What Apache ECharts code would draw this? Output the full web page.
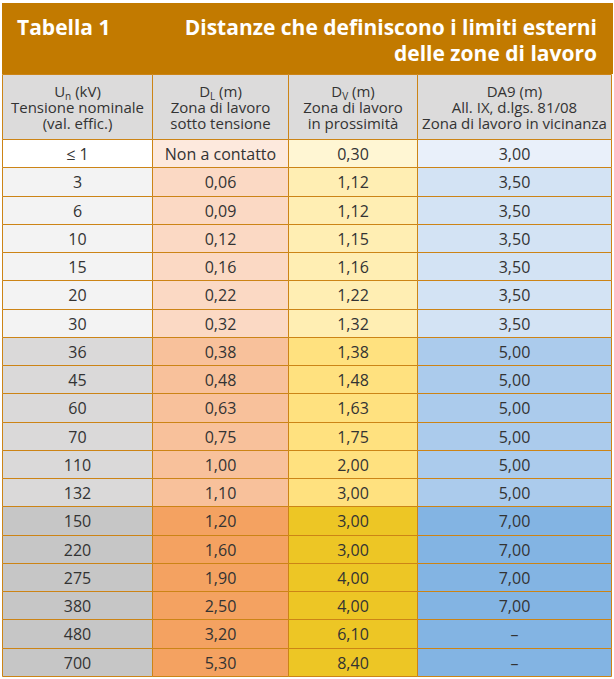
<!DOCTYPE html>
<html>
<head>
<meta charset="utf-8">
<script src="https://cdn.jsdelivr.net/npm/echarts@6/dist/echarts.min.js"></script>
<style>
  html, body { margin: 0; padding: 0; background: #fff; }
  #main { width: 614px; height: 679px; }
</style>
</head>
<body>
<div id="main"></div>
<script>
// dati della tabella
var tensioni = ['≤ 1', '3', '6', '10', '15', '20', '30', '36', '45', '60', '70', '110', '132', '150', '220', '275', '380', '480', '700'];
var distL = [null, 0.06, 0.09, 0.12, 0.16, 0.22, 0.32, 0.38, 0.48, 0.63, 0.75, 1.00, 1.10, 1.20, 1.60, 1.90, 2.50, 3.20, 5.30];
var distV = [0.30, 1.12, 1.12, 1.15, 1.16, 1.22, 1.32, 1.38, 1.48, 1.63, 1.75, 2.00, 3.00, 3.00, 3.00, 4.00, 4.00, 6.10, 8.40];
var distA9 = [3.00, 3.50, 3.50, 3.50, 3.50, 3.50, 3.50, 5.00, 5.00, 5.00, 5.00, 5.00, 5.00, 7.00, 7.00, 7.00, 7.00, null, null];
// fascia di tensione di ogni riga (colore delle celle)
var fasce = [0, 1, 1, 1, 1, 1, 1, 2, 2, 2, 2, 2, 2, 3, 3, 3, 3, 3, 3];
var intestazioni = [
  ['{m|U}{s|n}{m| (kV)}', 'Tensione nominale', '(val. effic.)'],
  ['{m|D}{s|L}{m| (m)}', 'Zona di lavoro', 'sotto tensione'],
  ['{m|D}{s|V}{m| (m)}', 'Zona di lavoro', 'in prossimità'],
  ['DA9 (m)', 'All. IX, d.lgs. 81/08', 'Zona di lavoro in vicinanza']
];
var titolo = 'Tabella 1';
var sottotitolo = ['Distanze che definiscono i limiti esterni', 'delle zone di lavoro'];

// larghezze colonne e colori
var larghezze = [150, 136, 129, 194];
var bordi = [0];
larghezze.forEach(function (w, i) { bordi.push(bordi[i] + w); });
var totale = bordi[bordi.length - 1];

var arancio = '#C27A00';
var linea = '#CC8416';
var grigioHead = '#DCDBDB';
var colori = [
  ['#FFFFFF', '#F3F3F3', '#DAD9D9', '#C6C6C6'],
  ['#FDE9DD', '#FBD9C4', '#F8C19B', '#F4A261'],
  ['#FFF6D3', '#FFEEB3', '#FFE17F', '#EDC625'],
  ['#E9F0FA', '#D3E3F4', '#ABCBEC', '#83B4E3']
];
var font = '"Open Sans", "Noto Sans", sans-serif';
var testoCol = '#333333';

function fmt(v) {
  return v.toFixed(2).replace('.', ',');
}

var celle = [];
tensioni.forEach(function (t, r) {
  celle.push([0, r, t, fasce[r]]);
  celle.push([1, r, distL[r] == null ? 'Non a contatto' : fmt(distL[r]), fasce[r]]);
  celle.push([2, r, fmt(distV[r]), fasce[r]]);
  celle.push([3, r, distA9[r] == null ? '–' : fmt(distA9[r]), fasce[r]]);
});
var celleHead = intestazioni.map(function (t, c) { return [c, 0]; });

// rettangolo della cella dalle coordinate degli assi
function box(api) {
  var c = api.value(0), r = api.value(1);
  var a = api.coord([bordi[c], r]);
  var b = api.coord([bordi[c + 1], r]);
  var h = api.size([0, 1])[1];
  var x0 = Math.round(a[0]) + 0.5, x1 = Math.round(b[0]) + 0.5;
  var y0 = Math.round(a[1] - h / 2) + 0.5, y1 = Math.round(a[1] + h / 2) + 0.5;
  return { x0: x0, x1: x1, y0: y0, y1: y1, cx: (x0 + x1) / 2, cy: (y0 + y1) / 2 };
}

var rich = {
  m: { fontSize: 15, fontFamily: 'Open Sans', lineHeight: 16, fill: testoCol },
  s: { fontSize: 10, fontFamily: 'Open Sans', lineHeight: 16, padding: [9, 0, 0, 0], fill: testoCol }
};

var chart = echarts.init(document.getElementById('main'), null, { renderer: 'svg' });
var option = {
  backgroundColor: '#ffffff',
  animation: false,
  graphic: [
    { type: 'rect', left: 2, top: 3, z: 0, shape: { width: 611, height: 71 }, style: { fill: arancio } },
    { type: 'text', x: 17, y: 27, z: 1, style: { text: titolo, fill: '#ffffff', font: 'bold 21px ' + font, verticalAlign: 'middle' } },
    { type: 'text', x: 597, y: 27, z: 1, style: { text: sottotitolo[0], fill: '#ffffff', font: 'bold 21px ' + font, align: 'right', verticalAlign: 'middle' } },
    { type: 'text', x: 597, y: 53, z: 1, style: { text: sottotitolo[1], fill: '#ffffff', font: 'bold 21px ' + font, align: 'right', verticalAlign: 'middle' } }
  ],
  grid: [
    { left: 2, top: 74, width: totale, height: 65 },
    { left: 2, top: 139, width: totale, height: 537 }
  ],
  xAxis: [
    { type: 'value', gridIndex: 0, min: 0, max: totale, show: false },
    { type: 'value', gridIndex: 1, min: 0, max: totale, show: false }
  ],
  yAxis: [
    { type: 'category', gridIndex: 0, data: ['intestazione'], show: false },
    { type: 'category', gridIndex: 1, data: tensioni, inverse: true, show: false }
  ],
  series: [
    {
      type: 'custom', xAxisIndex: 0, yAxisIndex: 0, data: celleHead,
      renderItem: function (params, api) {
        var b = box(api);
        var righe = intestazioni[api.value(0)];
        var children = [
          { type: 'rect', shape: { x: b.x0, y: b.y0, width: b.x1 - b.x0, height: b.y1 - b.y0 },
            style: { fill: grigioHead, stroke: linea, lineWidth: 1 } }
        ];
        righe.forEach(function (t, i) {
          children.push({
            type: 'text',
            style: {
              x: b.cx, y: b.cy + (i - 1) * 16, text: t, align: 'center', verticalAlign: 'middle',
              fill: testoCol, font: '15px ' + font, rich: rich
            }
          });
        });
        return { type: 'group', children: children };
      },
      encode: { x: 0, y: 1 }
    },
    {
      type: 'custom', xAxisIndex: 1, yAxisIndex: 1, data: celle,
      renderItem: function (params, api) {
        var b = box(api);
        return {
          type: 'group',
          children: [
            { type: 'rect', shape: { x: b.x0, y: b.y0, width: b.x1 - b.x0, height: b.y1 - b.y0 },
              style: { fill: colori[api.value(0)][api.value(3)], stroke: linea, lineWidth: 1 } },
            { type: 'text', style: { x: b.cx, y: b.cy, text: api.value(2), align: 'center', verticalAlign: 'middle',
              fill: testoCol, font: '16px ' + font } }
          ]
        };
      },
      encode: { x: 0, y: 1 }
    }
  ]
};
chart.setOption(option);
</script>
</body>
</html>
